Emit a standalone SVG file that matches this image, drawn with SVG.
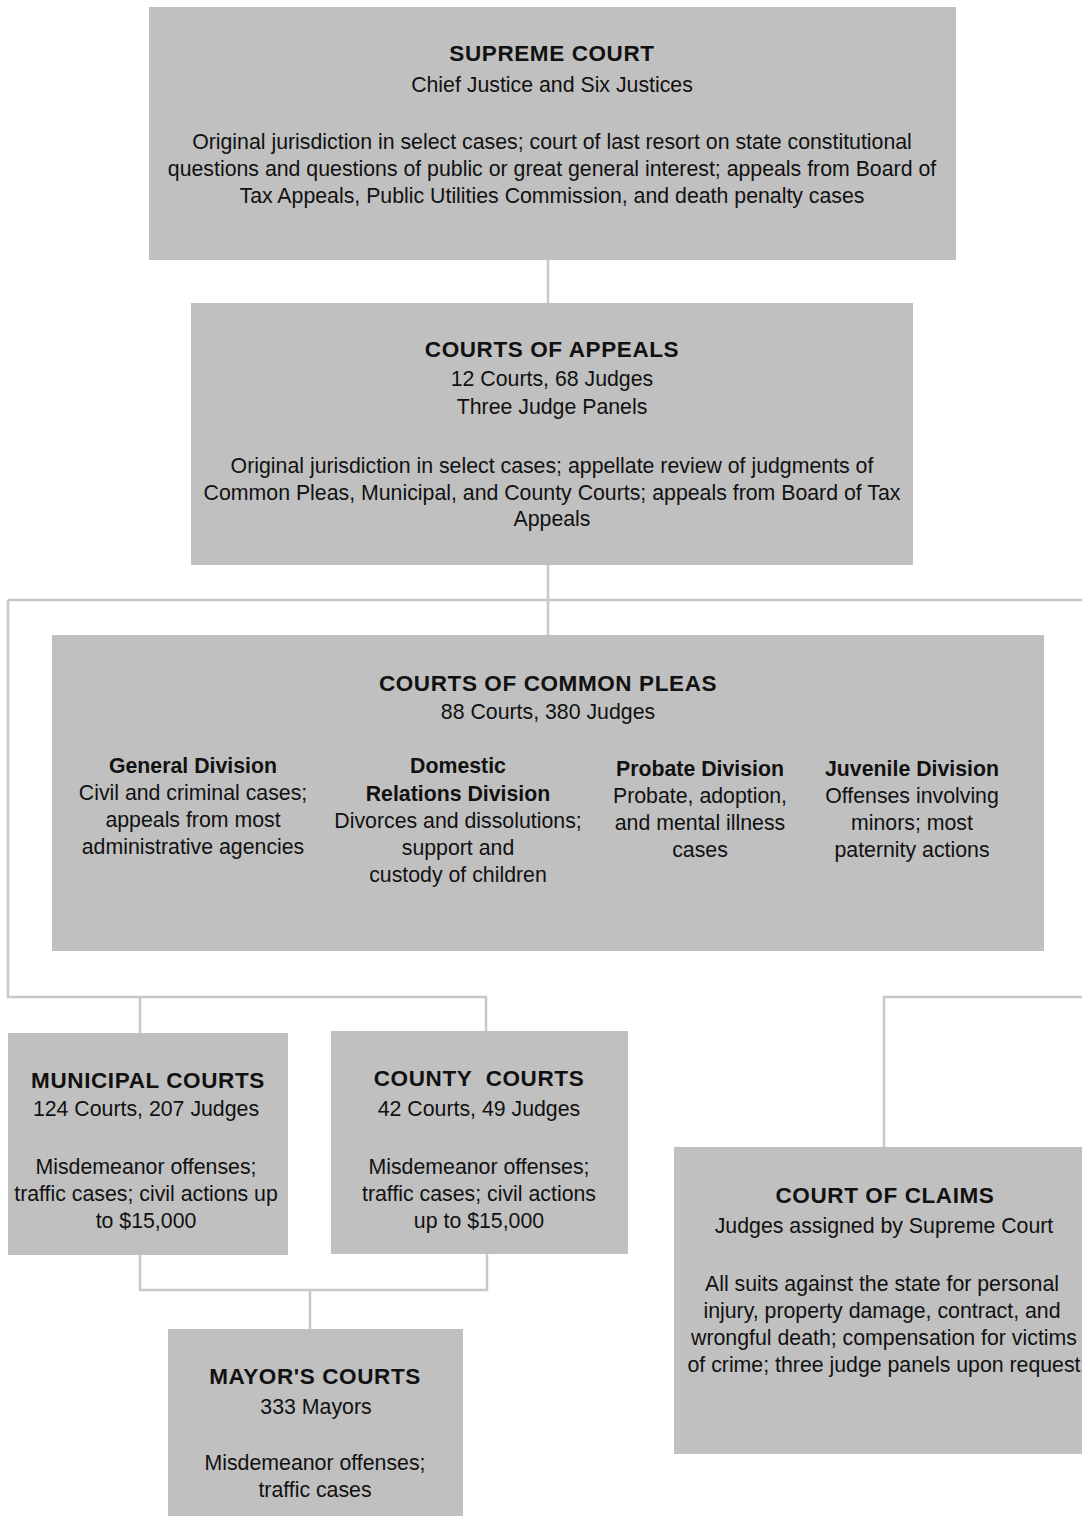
<svg xmlns="http://www.w3.org/2000/svg" width="1082" height="1516" viewBox="0 0 1082 1516">
<style>
.box{fill:#c0c0c0}
text{font-family:"Liberation Sans",Arial,sans-serif;font-size:21.3px;fill:#111;text-anchor:middle}
.t{font-weight:bold;font-size:22.5px;letter-spacing:0.6px}
.d{font-weight:bold;font-size:21.3px}
.c{fill:none;stroke:#c8c8c8;stroke-width:2.5}
</style>
<rect width="1082" height="1516" fill="#fff"/>
<g id="connectors" class="c">
<path d="M548 260V303"/>
<path d="M548 565V635"/>
<path d="M8 600H1082"/>
<path d="M8 600V997H486V1031"/>
<path d="M140 997V1033"/>
<path d="M1082 997H884V1147"/>
<path d="M140 1255V1290H487V1254"/>
<path d="M310 1290V1329"/>
</g>
<g id="supreme">
<rect class="box" x="149" y="7" width="807" height="253"/>
<text class="t" x="552" y="61">SUPREME COURT</text>
<text x="552" y="92">Chief Justice and Six Justices</text>
<text x="552" y="149">Original jurisdiction in select cases; court of last resort on state constitutional</text>
<text x="552" y="176">questions and questions of public or great general interest; appeals from Board of</text>
<text x="552" y="203">Tax Appeals, Public Utilities Commission, and death penalty cases</text>
</g>
<g id="appeals">
<rect class="box" x="191" y="303" width="722" height="262"/>
<text class="t" x="552" y="357">COURTS OF APPEALS</text>
<text x="552" y="386">12 Courts, 68 Judges</text>
<text x="552" y="414">Three Judge Panels</text>
<text x="552" y="473">Original jurisdiction in select cases; appellate review of judgments of</text>
<text x="552" y="500">Common Pleas, Municipal, and County Courts; appeals from Board of Tax</text>
<text x="552" y="526">Appeals</text>
</g>
<g id="common-pleas">
<rect class="box" x="52" y="635" width="992" height="316"/>
<text class="t" x="548" y="691">COURTS OF COMMON PLEAS</text>
<text x="548" y="719">88 Courts, 380 Judges</text>
<text class="d" x="193" y="773">General Division</text>
<text x="193" y="800">Civil and criminal cases;</text>
<text x="193" y="827">appeals from most</text>
<text x="193" y="854">administrative agencies</text>
<text class="d" x="458" y="773">Domestic</text>
<text class="d" x="458" y="801">Relations Division</text>
<text x="458" y="828">Divorces and dissolutions;</text>
<text x="458" y="855">support and</text>
<text x="458" y="882">custody of children</text>
<text class="d" x="700" y="776">Probate Division</text>
<text x="700" y="803">Probate, adoption,</text>
<text x="700" y="830">and mental illness</text>
<text x="700" y="857">cases</text>
<text class="d" x="912" y="776">Juvenile Division</text>
<text x="912" y="803">Offenses involving</text>
<text x="912" y="830">minors; most</text>
<text x="912" y="857">paternity actions</text>
</g>
<g id="municipal">
<rect class="box" x="8" y="1033" width="280" height="222"/>
<text class="t" x="148" y="1088">MUNICIPAL COURTS</text>
<text x="146" y="1116">124 Courts, 207 Judges</text>
<text x="146" y="1174">Misdemeanor offenses;</text>
<text x="146" y="1201">traffic cases; civil actions up</text>
<text x="146" y="1228">to $15,000</text>
</g>
<g id="county">
<rect class="box" x="331" y="1031" width="297" height="223"/>
<text class="t" x="479" y="1086" xml:space="preserve">COUNTY  COURTS</text>
<text x="479" y="1116">42 Courts, 49 Judges</text>
<text x="479" y="1174">Misdemeanor offenses;</text>
<text x="479" y="1201">traffic cases; civil actions</text>
<text x="479" y="1228">up to $15,000</text>
</g>
<g id="mayors">
<rect class="box" x="168" y="1329" width="295" height="187"/>
<text class="t" x="315" y="1384">MAYOR'S COURTS</text>
<text x="316" y="1414">333 Mayors</text>
<text x="315" y="1470">Misdemeanor offenses;</text>
<text x="315" y="1497">traffic cases</text>
</g>
<g id="claims">
<rect class="box" x="674" y="1147" width="408" height="307"/>
<text class="t" x="885" y="1203">COURT OF CLAIMS</text>
<text x="884" y="1233">Judges assigned by Supreme Court</text>
<text x="882" y="1291">All suits against the state for personal</text>
<text x="882" y="1318">injury, property damage, contract, and</text>
<text x="884" y="1345">wrongful death; compensation for victims</text>
<text x="884" y="1372">of crime; three judge panels upon request</text>
</g>
</svg>
